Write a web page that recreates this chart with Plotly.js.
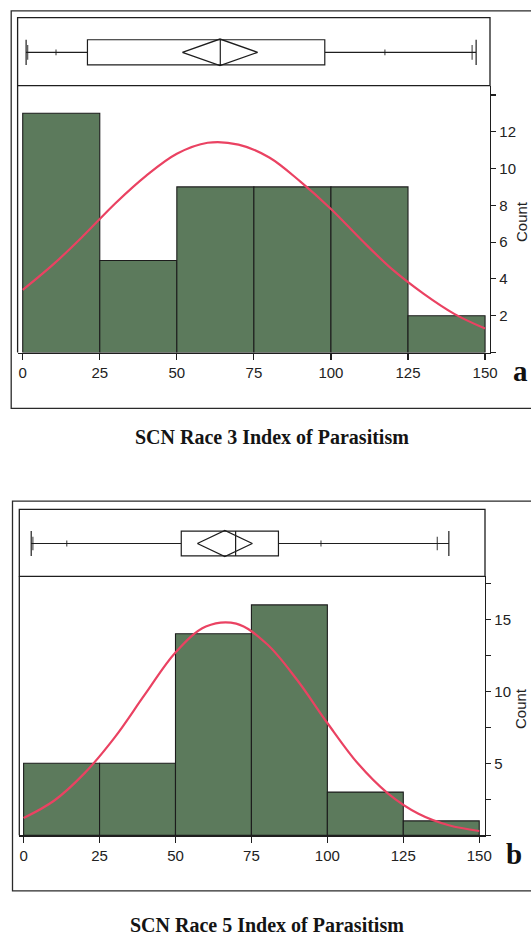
<!DOCTYPE html>
<html>
<head>
<meta charset="utf-8">
<script src="https://cdn.plot.ly/plotly-3.0.1.min.js"></script>
<style>
html,body{margin:0;padding:0;background:#ffffff;}
#chart{width:531px;height:939px;}
</style>
</head>
<body>
<div id="chart"></div>
<script>
// ---------------- data ----------------
const binStarts = [0, 25, 50, 75, 100, 125];
const binWidth = 25;
const countsRace3 = [13, 5, 9, 9, 9, 2];
const countsRace5 = [5, 5, 14, 16, 3, 1];

// fitted normal curves
const curveX = [0, 10, 20, 30, 40, 50, 60, 70, 80, 90, 100, 110, 120, 130, 140, 150];
const curveRace3 = [3.4, 4.8, 6.4, 8.1, 9.6, 10.8, 11.4, 11.3, 10.6, 9.3, 7.8, 6.1, 4.5, 3.2, 2.1, 1.3];
const curveRace5 = [1.2, 2.4, 4.3, 6.8, 9.8, 12.7, 14.5, 14.7, 13.3, 10.8, 7.8, 5.0, 2.9, 1.5, 0.7, 0.3];

// box plot statistics: min, 2.5%, 10%, q1, median, q3, 90%, 97.5%, max
const boxRace3 = [1.1, 1.6, 10.8, 21.0, 64.1, 98.0, 117.5, 145.8, 147.1];
const boxRace5 = [2.5, 3.05, 14.2, 51.9, 69.8, 83.9, 97.9, 136.2, 140.0];
// mean diamond: lower 95% CI, mean, upper 95% CI
const meanRace3 = [51.8, 64.0, 76.2];
const meanRace5 = [57.2, 66.25, 75.3];

// tick labels
const xTickVals = [0, 25, 50, 75, 100, 125, 150];
const xTickText = ['0', '25', '50', '75', '100', '125', '150'];
const yTickVals3 = [0, 2, 4, 6, 8, 10, 12, 14];
const yTickText3 = ['', '2', '4', '6', '8', '10', '12', ''];
const yTickVals5 = [0, 2.5, 5, 7.5, 10, 12.5, 15, 17.5];
const yTickText5 = ['', '', '5', '', '10', '', '15', ''];

const titles = ['SCN Race 3 Index of Parasitism', 'SCN Race 5 Index of Parasitism'];
const panelLetters = ['a', 'b'];
const yTitle = 'Count';

// ---------------- styling / layout helpers ----------------
const W = 531, H = 939;
const px = v => v / W;
const py = v => 1 - v / H;

const barColor = '#5c7a5c';
const barLine = '#1c1c1c';
const curveColor = '#ea4262';
const ink = '#1e1e1e';
const tickFont = {family: '"Liberation Sans", Arial, sans-serif', size: 15, color: '#222'};
const serifBold = '"Liberation Serif", "Times New Roman", Times, serif';

const BOXPOS = 0.49, BOXW = 0.37, DIAMOND_H = 0.195;

function boxTraces(stats, meanCI, xa, ya, capSize) {
  const t = [];
  t.push({
    type: 'box', orientation: 'h', xaxis: xa, yaxis: ya,
    y: [BOXPOS],
    lowerfence: [stats[0]], q1: [stats[3]], median: [stats[4]], q3: [stats[5]], upperfence: [stats[8]],
    width: BOXW, whiskerwidth: 1, boxpoints: false,
    fillcolor: '#ffffff', line: {color: ink, width: 1.2},
    hoverinfo: 'skip', showlegend: false
  });
  // quantile ticks
  t.push({
    type: 'scatter', mode: 'markers', xaxis: xa, yaxis: ya,
    x: [stats[1], stats[2], stats[6], stats[7]],
    y: [BOXPOS, BOXPOS, BOXPOS, BOXPOS],
    marker: {symbol: 'line-ns', size: [capSize, 4.2, 4.2, capSize], color: ink, line: {color: ink, width: 1.3}},
    hoverinfo: 'skip', showlegend: false
  });
  // mean diamond
  t.push({
    type: 'scatter', mode: 'lines', xaxis: xa, yaxis: ya,
    x: [meanCI[0], meanCI[1], meanCI[2], meanCI[1], meanCI[0]],
    y: [BOXPOS, BOXPOS + DIAMOND_H, BOXPOS, BOXPOS - DIAMOND_H, BOXPOS],
    line: {color: ink, width: 1.3},
    hoverinfo: 'skip', showlegend: false
  });
  return t;
}

function histTraces(counts, curve, xa, ya) {
  return [
    {
      type: 'bar', xaxis: xa, yaxis: ya,
      x: binStarts, y: counts, width: binWidth, offset: 0,
      marker: {color: barColor, line: {color: barLine, width: 1.1}},
      hoverinfo: 'skip', showlegend: false
    },
    {
      type: 'scatter', mode: 'lines', xaxis: xa, yaxis: ya,
      x: curveX, y: curve,
      line: {color: curveColor, width: 2.2, shape: 'spline', smoothing: 1},
      hoverinfo: 'skip', showlegend: false
    }
  ];
}

const data = [].concat(
  histTraces(countsRace3, curveRace3, 'x', 'y'),
  boxTraces(boxRace3, meanRace3, 'x2', 'y2', 10.5),
  histTraces(countsRace5, curveRace5, 'x3', 'y3'),
  boxTraces(boxRace5, meanRace5, 'x4', 'y4', 9.5)
);

// panel geometry in pixels
const P = [
  {outerL: 11.2, outerT: 10.9, outerB: 408.4, inL: 17.6, inR: 490, inT: 17.6, boxB: 85.7, axisB: 352.5,
   xr: [-1.66, 151.6], yr: [0, 14.5], tv: yTickVals3, tt: yTickText3,
   titleX: 272, titleY: 437, letX: 520.5, letY: 371, countX: 522, countY: 222},
  {outerL: 12.5, outerT: 501.2, outerB: 890.8, inL: 19.3, inR: 485, inT: 509.3, boxB: 576.4, axisB: 835.3,
   xr: [-1.42, 151.9], yr: [0, 17.98], tv: yTickVals5, tt: yTickText5,
   titleX: 267, titleY: 925, letX: 514, letY: 853.5, countX: 520, countY: 709}
];

function histX(p) {
  return {
    domain: [px(p.inL), px(p.inR)], range: p.xr, showgrid: false, zeroline: false,
    showline: true, linecolor: ink, linewidth: 1.3, ticks: 'outside', ticklen: 6, tickwidth: 1.2, tickcolor: ink,
    tickmode: 'array', tickvals: xTickVals, ticktext: xTickText, tickfont: tickFont, fixedrange: true
  };
}
function histY(p, xa) {
  return {
    domain: [py(p.axisB), py(p.boxB)], range: p.yr, side: 'right', anchor: xa,
    showgrid: false, zeroline: false, showline: true, linecolor: ink, linewidth: 1.3,
    ticks: 'outside', ticklen: 5, tickwidth: 1.2, tickcolor: ink,
    tickmode: 'array', tickvals: p.tv, ticktext: p.tt, tickfont: tickFont, fixedrange: true
  };
}
function boxX(p) {
  return {domain: [px(p.inL), px(p.inR)], range: p.xr, visible: false, fixedrange: true};
}
function boxY(p) {
  return {domain: [py(p.boxB), py(p.inT)], range: [0, 1], visible: false, fixedrange: true};
}

const shapes = [];
const annotations = [];
P.forEach((p, i) => {
  // outer frame
  shapes.push({type: 'rect', xref: 'paper', yref: 'paper', x0: px(p.outerL), x1: px(W + 20), y0: py(p.outerB), y1: py(p.outerT),
    line: {color: '#2a2a2a', width: 1.3}, fillcolor: 'rgba(0,0,0,0)', layer: 'below'});
  // box plot frame
  shapes.push({type: 'rect', xref: 'paper', yref: 'paper', x0: px(p.inL), x1: px(p.inR), y0: py(p.boxB), y1: py(p.inT),
    line: {color: ink, width: 1.3}, fillcolor: 'rgba(0,0,0,0)', layer: 'above'});
  // left frame of histogram
  shapes.push({type: 'line', xref: 'paper', yref: 'paper', x0: px(p.inL), x1: px(p.inL), y0: py(p.axisB), y1: py(p.boxB),
    line: {color: ink, width: 1.3}, layer: 'above'});
  annotations.push({xref: 'paper', yref: 'paper', x: px(p.titleX), y: py(p.titleY), xanchor: 'center', yanchor: 'middle',
    text: '<b>' + titles[i] + '</b>', showarrow: false, font: {family: serifBold, size: 20, color: '#141414'}});
  annotations.push({xref: 'paper', yref: 'paper', x: px(p.letX), y: py(p.letY), xanchor: 'center', yanchor: 'middle',
    text: '<b>' + panelLetters[i] + '</b>', showarrow: false, font: {family: serifBold, size: 29, color: '#111'}});
  annotations.push({xref: 'paper', yref: 'paper', x: px(p.countX), y: py(p.countY), xanchor: 'center', yanchor: 'middle',
    text: yTitle, textangle: -90, showarrow: false, font: {family: '"Liberation Sans", Arial, sans-serif', size: 15, color: '#222'}});
});

const layout = {
  width: W, height: H,
  margin: {l: 0, r: 0, t: 0, b: 0, pad: 0},
  paper_bgcolor: '#ffffff', plot_bgcolor: 'rgba(0,0,0,0)',
  showlegend: false, bargap: 0,
  xaxis: Object.assign(histX(P[0]), {anchor: 'y'}),
  yaxis: histY(P[0], 'x'),
  xaxis2: Object.assign(boxX(P[0]), {anchor: 'y2'}),
  yaxis2: Object.assign(boxY(P[0]), {anchor: 'x2'}),
  xaxis3: Object.assign(histX(P[1]), {anchor: 'y3'}),
  yaxis3: histY(P[1], 'x3'),
  xaxis4: Object.assign(boxX(P[1]), {anchor: 'y4'}),
  yaxis4: Object.assign(boxY(P[1]), {anchor: 'x4'}),
  shapes: shapes,
  annotations: annotations
};

Plotly.newPlot('chart', data, layout, {displayModeBar: false, staticPlot: true});
</script>
</body>
</html>
